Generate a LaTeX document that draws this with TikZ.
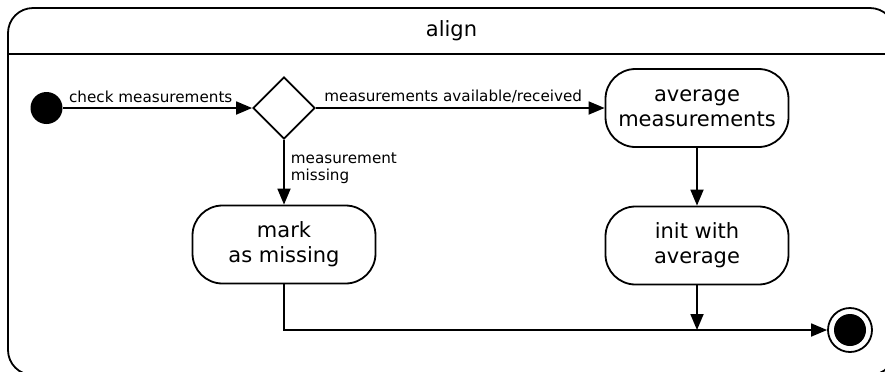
\documentclass[tikz,border=0pt]{standalone}
\usepackage{fontspec}
\setmainfont{DejaVu Sans}
\usetikzlibrary{arrows.meta,shapes.geometric}
\begin{document}
\begin{tikzpicture}[x=0.5pt,y=-0.5pt,
  line width=0.9pt,
  arr/.style={-{Triangle[length=8pt,width=6.5pt]}},
  actbox/.style={draw,rounded corners=15pt,minimum width=91.5pt,minimum height=39pt,align=center,inner sep=0pt,font=\fontsize{10.5}{12.5}\selectfont},
  lbl/.style={font=\fontsize{7.6}{8.6}\selectfont,inner sep=1pt},
  toplbl/.style={lbl,above,xshift=-3.5pt,yshift=1.2pt},
  title/.style={font=\fontsize{10.5}{12.5}\selectfont}]
\useasboundingbox (0,0) rectangle (885,371);
\clip (0,0) rectangle (885,371);
\draw[rounded corners=12.5pt] (8,8) rectangle (895,375);
\draw (8,54) -- (895,54);
\node[title] (ttl) at (451.5,31) {align};
\node[circle,fill,inner sep=0pt,minimum size=16pt] (start) at (46.5,108) {};
\node[diamond,draw,inner sep=0pt,minimum width=31pt,minimum height=31pt,aspect=1] (dec) at (284,108) {};
\node[actbox] (avg) at (697,108) {average\\measurements};
\node[actbox] (initavg) at (697,245.5) {init with\\average};
\node[actbox] (mark) at (284,244.5) {mark\\as missing};
\node[circle,draw,inner sep=0pt,minimum size=22pt] (final) at (850,330) {};
\node[circle,fill,inner sep=0pt,minimum size=16pt] (finalin) at (final) {};
\coordinate (merge) at (initavg |- final);
\draw[arr] (start) -- node[toplbl] {check measurements} (dec.west);
\draw[arr] (dec.east) -- node[toplbl] {measurements available/received} (avg.west);
\draw[arr] (dec.south) -- node[lbl,right,align=left,xshift=2pt,yshift=2pt] {measurement\\missing} (mark.north);
\draw[arr] (avg.south) -- (initavg.north);
\draw[arr] (initavg.south) -- (merge);
\draw[arr] (mark.south) |- (final.west);
\end{tikzpicture}
\end{document}
